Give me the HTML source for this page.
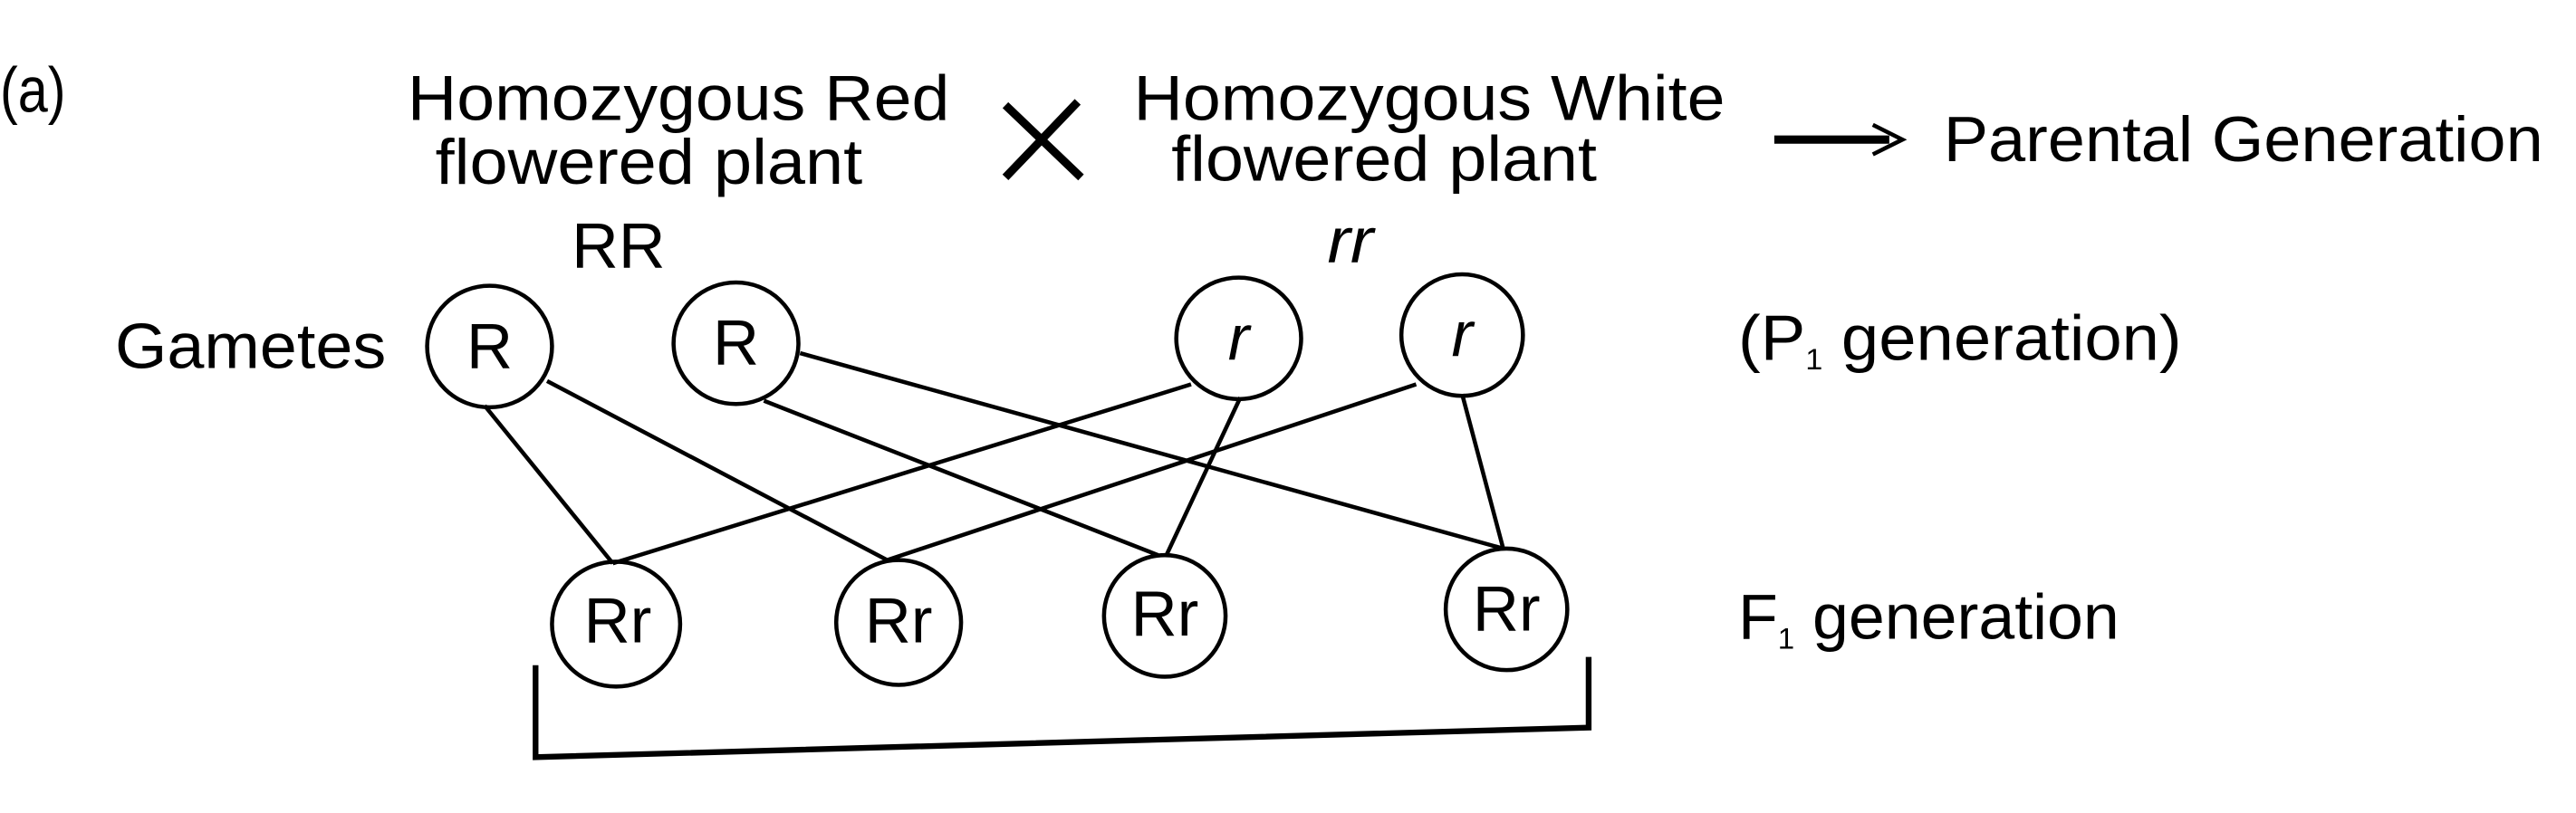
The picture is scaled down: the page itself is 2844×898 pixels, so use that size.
<!DOCTYPE html>
<html><head><style>html,body{margin:0;padding:0;background:#fff;width:2844px;height:898px;overflow:hidden}</style></head>
<body>
<svg width="2844" height="898" viewBox="0 0 1568 495" preserveAspectRatio="none" xmlns="http://www.w3.org/2000/svg" style="display:block">
<g font-family="'Liberation Sans Narrow','Liberation Sans',sans-serif" font-size="39" fill="#000">
<text x="0" y="68" textLength="40" lengthAdjust="spacingAndGlyphs">(a)</text>
<text x="248" y="73" textLength="330" lengthAdjust="spacingAndGlyphs">Homozygous Red</text>
<text x="265" y="112" textLength="260" lengthAdjust="spacingAndGlyphs">flowered plant</text>
<text x="690" y="73" textLength="360" lengthAdjust="spacingAndGlyphs">Homozygous White</text>
<text x="713" y="110" textLength="259" lengthAdjust="spacingAndGlyphs">flowered plant</text>
<text x="1183" y="98" textLength="365" lengthAdjust="spacingAndGlyphs">Parental Generation</text>
<text x="348" y="163" textLength="57" lengthAdjust="spacingAndGlyphs">RR</text>
<text x="808" y="160" font-style="italic" textLength="28" lengthAdjust="spacingAndGlyphs">rr</text>
<text x="70" y="224" textLength="165" lengthAdjust="spacingAndGlyphs">Gametes</text>
<text x="1058" y="219" textLength="270" lengthAdjust="spacingAndGlyphs">(P<tspan font-size="18" dy="6">1</tspan><tspan dy="-6"> generation)</tspan></text>
<text x="1058" y="389" textLength="232" lengthAdjust="spacingAndGlyphs">F<tspan font-size="18" dy="6">1</tspan><tspan dy="-6"> generation</tspan></text>
<g text-anchor="middle">
<text x="298" y="224">R</text><text x="448" y="222">R</text>
<text x="754" y="219" font-style="italic">r</text><text x="890" y="217" font-style="italic">r</text>
<text x="376" y="391">Rr</text><text x="547" y="391">Rr</text><text x="709" y="387">Rr</text><text x="917" y="384">Rr</text>
</g>
</g>
<g stroke="#000" fill="none" stroke-width="2.5">
<path d="M612 64 L658 108 M656 62 L612 108" stroke-width="5"/>
<path d="M1080 85 L1150 85" stroke-width="5"/>
<path d="M1140 76 L1158 85 L1140 94" stroke-width="2.5"/>
<ellipse cx="298" cy="211" rx="38" ry="37"/>
<ellipse cx="448" cy="209" rx="38" ry="37"/>
<ellipse cx="754" cy="206" rx="38" ry="37"/>
<ellipse cx="890" cy="204" rx="37" ry="37"/>
<ellipse cx="375" cy="380" rx="39" ry="38"/>
<ellipse cx="547" cy="379" rx="38" ry="38"/>
<ellipse cx="709" cy="375" rx="37" ry="37"/>
<ellipse cx="917" cy="371" rx="37" ry="37"/>
<line x1="295" y1="247" x2="373" y2="343"/>
<line x1="333" y1="232" x2="540" y2="341"/>
<line x1="465" y1="244" x2="705" y2="338"/>
<line x1="487" y1="215" x2="915" y2="334"/>
<line x1="725" y1="234" x2="373" y2="343"/>
<line x1="755" y1="242" x2="710" y2="338"/>
<line x1="862" y1="234" x2="540" y2="341"/>
<line x1="890" y1="240" x2="915" y2="334"/>
<path d="M326 405 L326 461 L967 443 L967 400" stroke-width="3.5"/>
</g>
</svg>
</body></html>
